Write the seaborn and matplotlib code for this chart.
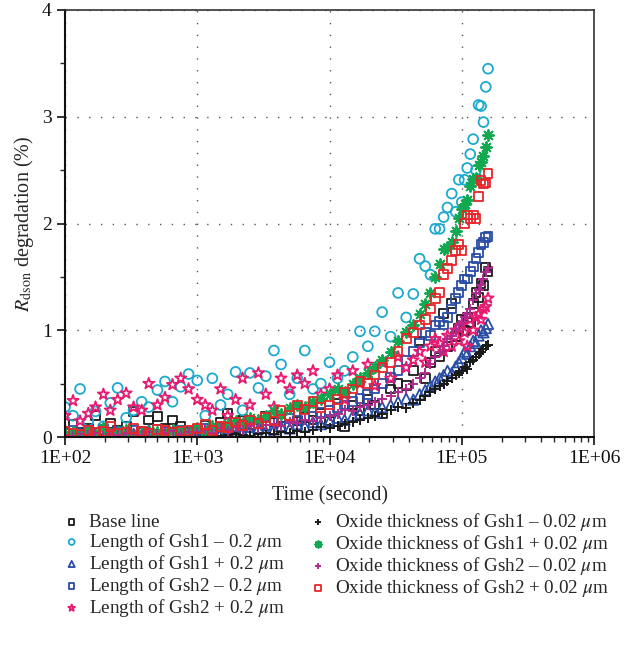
import numpy as np
import pandas as pd
import matplotlib
matplotlib.use("Agg")
import matplotlib.pyplot as plt
import matplotlib.ticker as mticker
import seaborn as sns

# Tiempo de medida (s), común a todas las series
tiempo = [100, 115, 130, 150, 170, 195, 220, 250, 290, 330, 380, 430, 500, 570, 650, 750, 860,
          1000, 1150, 1300, 1500, 1700, 1950, 2200, 2500, 2900, 3300, 3800, 4300, 5000, 5700, 6500, 7500, 8600,
          10000, 11500, 13000, 15000, 17000, 19500, 22000, 25000, 29000, 33000, 38000, 43000, 48000, 53000, 58000, 63000,
          68000, 73000, 78000, 84000, 90000, 95000, 100000, 105000, 110000, 116000, 122000, 128000, 134000, 140000, 146000, 152000, 158000]

base_line = [0.05, 0.12, 0.04, 0.08, 0.20, 0.03, 0.13, 0.06, 0.10, 0.24, 0.05, 0.16, 0.19, 0.08, 0.16, 0.10, 0.04,
             0.06, 0.11, 0.05, 0.14, 0.22, 0.09, 0.16, 0.12, 0.08, 0.19, 0.14, 0.10, 0.20, 0.15, 0.18, 0.16, 0.22,
             0.15, 0.40, 0.10, 0.30, 0.25, 0.35, 0.30, 0.22, 0.45, 0.50, 0.48, 0.62, 0.90, 0.55, 0.70, 0.80,
             0.75, 1.16, 0.85, 1.25, 0.94, 1.02, 1.10, 1.00, 1.12, 1.07, 1.25, 1.35, 1.31, 1.44, 1.42, 1.59, 1.55]

len_gsh1_menos = [0.28, 0.20, 0.45, 0.15, 0.24, 0.10, 0.32, 0.46, 0.18, 0.25, 0.33, 0.28, 0.44, 0.52, 0.33, 0.47, 0.59,
                  0.53, 0.20, 0.55, 0.30, 0.40, 0.61, 0.25, 0.60, 0.46, 0.57, 0.81, 0.68, 0.40, 0.55, 0.81, 0.45, 0.50,
                  0.70, 0.55, 0.62, 0.75, 0.99, 0.85, 0.99, 1.17, 0.94, 1.35, 1.12, 1.34, 1.67, 1.60, 1.52, 1.95,
                  1.95, 2.06, 2.15, 2.28, 2.11, 2.41, 2.20, 2.41, 2.52, 2.65, 2.79, 2.50, 3.11, 3.10, 2.95, 3.28, 3.45]

len_gsh1_mas = [0.02, 0.00, 0.04, 0.01, 0.03, 0.00, 0.02, 0.05, 0.01, 0.03, 0.02, 0.06, 0.01, 0.04, 0.02, 0.03, 0.05,
                0.02, 0.04, 0.06, 0.03, 0.05, 0.07, 0.04, 0.06, 0.08, 0.05, 0.07, 0.10, 0.08, 0.12, 0.10, 0.14, 0.12,
                0.15, 0.18, 0.16, 0.20, 0.22, 0.25, 0.23, 0.28, 0.30, 0.33, 0.36, 0.35, 0.40, 0.44, 0.48, 0.52,
                0.55, 0.58, 0.62, 0.60, 0.66, 0.70, 0.74, 0.80, 0.78, 0.85, 0.90, 0.88, 0.95, 1.00, 0.98, 1.02, 1.06]

len_gsh2_menos = [0.03, 0.06, 0.02, 0.05, 0.04, 0.07, 0.03, 0.05, 0.02, 0.06, 0.04, 0.03, 0.07, 0.05, 0.04, 0.06, 0.05,
                  0.06, 0.08, 0.05, 0.09, 0.07, 0.10, 0.12, 0.09, 0.13, 0.11, 0.15, 0.14, 0.17, 0.16, 0.20, 0.19, 0.23,
                  0.25, 0.28, 0.30, 0.33, 0.36, 0.40, 0.45, 0.50, 0.56, 0.62, 0.72, 0.80, 0.88, 0.98, 0.95, 1.05,
                  1.08, 1.05, 1.12, 1.20, 1.30, 1.35, 1.42, 1.48, 1.48, 1.55, 1.60, 1.67, 1.73, 1.80, 1.82, 1.87, 1.88]

len_gsh2_mas = [0.20, 0.34, 0.15, 0.22, 0.28, 0.40, 0.25, 0.35, 0.41, 0.28, 0.25, 0.50, 0.30, 0.37, 0.49, 0.55, 0.45,
                0.35, 0.30, 0.25, 0.45, 0.20, 0.35, 0.55, 0.30, 0.60, 0.40, 0.28, 0.55, 0.45, 0.58, 0.50, 0.62, 0.40,
                0.45, 0.58, 0.35, 0.62, 0.50, 0.68, 0.48, 0.70, 0.55, 0.75, 0.65, 0.72, 0.80, 0.70, 0.85, 0.92,
                0.88, 0.80, 0.95, 0.85, 1.00, 0.90, 1.05, 0.98, 0.85, 1.10, 1.00, 1.12, 1.15, 1.10, 1.20, 1.22, 1.30]

ox_gsh1_menos = [0.01, 0.00, 0.02, 0.00, 0.01, 0.02, 0.00, 0.01, 0.00, 0.02, 0.01, 0.00, 0.01, 0.02, 0.00, 0.01, 0.01,
                 0.00, 0.01, 0.02, 0.01, 0.02, 0.03, 0.02, 0.01, 0.03, 0.04, 0.03, 0.05, 0.04, 0.06, 0.05, 0.07, 0.09,
                 0.08, 0.10, 0.12, 0.14, 0.16, 0.18, 0.20, 0.22, 0.25, 0.28, 0.27, 0.32, 0.35, 0.38, 0.42, 0.45,
                 0.48, 0.50, 0.52, 0.55, 0.58, 0.60, 0.62, 0.66, 0.64, 0.70, 0.72, 0.75, 0.78, 0.80, 0.82, 0.85, 0.86]

ox_gsh1_mas = [0.03, 0.05, 0.02, 0.06, 0.04, 0.08, 0.03, 0.05, 0.07, 0.02, 0.04, 0.06, 0.05, 0.03, 0.07, 0.06, 0.05,
               0.08, 0.06, 0.10, 0.09, 0.12, 0.15, 0.13, 0.18, 0.16, 0.20, 0.24, 0.22, 0.27, 0.30, 0.28, 0.33, 0.36,
               0.40, 0.45, 0.42, 0.50, 0.55, 0.60, 0.66, 0.72, 0.80, 0.90, 0.98, 1.05, 1.15, 1.25, 1.35, 1.50,
               1.62, 1.76, 1.77, 1.83, 1.93, 2.05, 2.14, 2.18, 2.22, 2.35, 2.42, 2.43, 2.55, 2.58, 2.63, 2.72, 2.83]

ox_gsh2_menos = [0.02, 0.01, 0.03, 0.02, 0.04, 0.01, 0.03, 0.02, 0.04, 0.03, 0.02, 0.05, 0.03, 0.04, 0.06, 0.03, 0.05,
                 0.05, 0.07, 0.04, 0.08, 0.06, 0.09, 0.07, 0.10, 0.08, 0.11, 0.12, 0.10, 0.14, 0.13, 0.16, 0.15, 0.18,
                 0.20, 0.22, 0.25, 0.24, 0.28, 0.30, 0.33, 0.36, 0.38, 0.42, 0.45, 0.50, 0.55, 0.60, 0.68, 0.75,
                 0.80, 0.85, 0.92, 0.95, 1.00, 1.05, 1.08, 1.12, 1.15, 1.20, 1.28, 1.35, 1.38, 1.42, 1.48, 1.55, 1.58]

ox_gsh2_mas = [0.05, 0.03, 0.02, 0.06, 0.04, 0.05, 0.10, 0.03, 0.04, 0.08, 0.05, 0.03, 0.07, 0.06, 0.04, 0.05, 0.06,
               0.08, 0.12, 0.06, 0.10, 0.09, 0.14, 0.11, 0.16, 0.13, 0.18, 0.15, 0.25, 0.20, 0.30, 0.26, 0.33, 0.28,
               0.30, 0.35, 0.42, 0.45, 0.52, 0.50, 0.58, 0.65, 0.70, 0.80, 0.92, 0.98, 1.05, 1.10, 1.20, 1.30,
               1.35, 1.52, 1.58, 1.65, 1.75, 1.80, 1.75, 2.00, 2.08, 2.05, 2.08, 2.05, 2.25, 2.40, 2.37, 2.38, 2.47]

etiquetas = ["Base line",
             "Length of Gsh1 \u2013 0.2 $\\mu$m",
             "Length of Gsh1 + 0.2 $\\mu$m",
             "Length of Gsh2 \u2013 0.2 $\\mu$m",
             "Length of Gsh2 + 0.2 $\\mu$m",
             "Oxide thickness of Gsh1 \u2013 0.02 $\\mu$m",
             "Oxide thickness of Gsh1 + 0.02 $\\mu$m",
             "Oxide thickness of Gsh2 \u2013 0.02 $\\mu$m",
             "Oxide thickness of Gsh2 + 0.02 $\\mu$m"]

series = [base_line, len_gsh1_menos, len_gsh1_mas, len_gsh2_menos, len_gsh2_mas,
          ox_gsh1_menos, ox_gsh1_mas, ox_gsh2_menos, ox_gsh2_mas]

# Estilo de cada serie: (color, marcador, tamaño, relleno)
estilos = [("#1a1a1a", "s", 40, True),
           ("#1ba9cf", "o", 50, True),
           ("#2a4da5", "^", 55, True),
           ("#2a4da5", "s", 40, True),
           ("#e8196f", "*", 70, True),
           ("#1a1a1a", "+", 60, False),
           ("#12a84f", (8, 2, 0), 60, False),
           ("#b02a8e", "+", 55, False),
           ("#e6262b", "s", 40, True)]

sns.set_style("ticks")
plt.rcParams["font.family"] = ["Liberation Serif", "DejaVu Serif"]
plt.rcParams["mathtext.fontset"] = "stix"

fig = plt.figure(figsize=(6.35, 6.45), dpi=100)
ax = fig.add_axes([65 / 635, 1 - 437 / 645, 529 / 635, 427 / 645])

for ys, nombre, (col, mk, sz, relleno) in zip(series, etiquetas, estilos):
    df = pd.DataFrame({"t": tiempo, "y": ys})
    if relleno:
        sns.scatterplot(data=df, x="t", y="y", ax=ax, marker=mk, s=sz,
                        facecolor="none", edgecolor=col, linewidth=1.3, label=nombre)
    else:
        sns.scatterplot(data=df, x="t", y="y", ax=ax, marker=mk, s=sz,
                        color=col, linewidth=1.4, label=nombre)

ax.set_xscale("log")
ax.set_xlim(1e2, 1e6)
ax.set_ylim(0, 4)
ax.xaxis.set_major_locator(mticker.LogLocator(base=10, numticks=10))
ax.xaxis.set_major_formatter(mticker.FuncFormatter(lambda v, p: f"{v:.0E}"))
ax.xaxis.set_minor_locator(mticker.LogLocator(base=10, subs=np.arange(2, 10), numticks=20))
ax.xaxis.set_minor_formatter(mticker.NullFormatter())
ax.yaxis.set_major_locator(mticker.MultipleLocator(1))
ax.yaxis.set_minor_locator(mticker.MultipleLocator(0.5))

ax.tick_params(which="major", direction="out", length=6, width=1.2, labelsize=14, colors="#111111")
ax.tick_params(which="minor", direction="out", length=3.5, width=1.0)
ax.grid(True, which="major", linestyle=(0, (1, 7.5)), color="#555555", linewidth=1.0)
for lado in ["left", "bottom"]:
    ax.spines[lado].set_linewidth(1.5)
    ax.spines[lado].set_color("#111111")
for lado in ["top", "right"]:
    ax.spines[lado].set_linewidth(1.2)
    ax.spines[lado].set_color("#333333")

ax.set_xlabel("Time (second)", fontsize=14.5, labelpad=14)
ax.set_ylabel(r"$R_{\mathrm{dson}}$ degradation (%)", fontsize=14.5, labelpad=4)

handles, labels = ax.get_legend_handles_labels()
ax.get_legend().remove()
fig.legend(handles, labels, loc="upper left", bbox_to_anchor=(64 / 635, 1 - 511 / 645),
           ncol=2, frameon=False, fontsize=13.8, markerscale=0.6, handlelength=0.8,
           handletextpad=0.5, labelspacing=0.0, columnspacing=1.35, borderpad=0, borderaxespad=0)

fig.savefig("out.png", dpi=100)
